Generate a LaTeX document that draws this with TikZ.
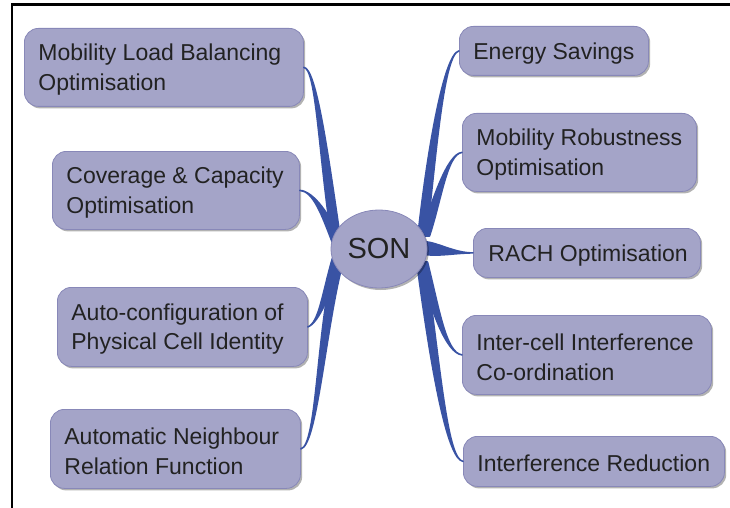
\documentclass[tikz,border=0pt]{standalone}
\usepackage{fontspec}
\setmainfont{Liberation Sans}
\usetikzlibrary{calc,shadows,shapes.geometric}
\definecolor{boxfill}{RGB}{164,164,200}
\definecolor{boxline}{RGB}{136,136,184}
\definecolor{branchblue}{RGB}{57,83,164}
\definecolor{txt}{RGB}{34,34,34}
\tikzset{
  topic/.style={draw=boxline, line width=0.8pt, fill=boxfill, rounded corners=14pt,
    anchor=north west, inner xsep=14pt, inner ysep=0pt, text=txt,
    font=\fontsize{23}{29.5}\selectfont,
    drop shadow={shadow xshift=1.8pt, shadow yshift=-2pt, fill=black, opacity=0.3}},
  centre/.style={ellipse, draw=boxline, line width=0.8pt, fill=boxfill, text=txt,
    minimum width=96pt, minimum height=78pt, inner sep=0pt,
    font=\fontsize{29}{34}\selectfont,
    drop shadow={shadow xshift=1.8pt, shadow yshift=-2pt, fill=black, opacity=0.3}},
  branch/.style={fill=branchblue, draw=branchblue, line width=1.6pt, line join=round}
}
\newcommand\oneline[1]{\mbox{#1}}
\newcommand\boxtext[2]{\raisebox{-2.2pt}[\height][\depth]{\parbox{#1}{\raggedright #2}}}
\newcommand\taper[5]{%
  \filldraw[branch] (#1) .. controls (#2) and ($(#3)+(#5)$) .. ($(#4)+(#5)$)
    -- ($(#4)-(#5)$) .. controls ($(#3)-(#5)$) and (#2) .. (#1) -- cycle;}
\begin{document}
\begin{tikzpicture}[x=1pt,y=-1pt]
\useasboundingbox (0,0) rectangle (730,508);
\draw[line width=2.2pt] (12,508) -- (12,4.5) -- (730,4.5);

% topic boxes
\node[topic, minimum width=279pt, minimum height=78pt] (mlb) at (24,28)
  {\boxtext{251pt}{\oneline{Mobility Load Balancing}\\\oneline{Optimisation}}};
\node[topic, minimum width=247pt, minimum height=78pt] (cco) at (52,151)
  {\boxtext{219pt}{\oneline{Coverage \& Capacity}\\\oneline{Optimisation}}};
\node[topic, minimum width=250pt, minimum height=79pt] (pci) at (57,287)
  {\boxtext{222pt}{\oneline{Auto-configuration of}\\\oneline{Physical Cell Identity}}};
\node[topic, minimum width=250pt, minimum height=79pt] (anr) at (50,409)
  {\boxtext{222pt}{\oneline{Automatic Neighbour}\\\oneline{Relation Function}}};
\node[topic, minimum width=189pt, minimum height=49pt] (es) at (459,26)
  {\boxtext{161pt}{\oneline{Energy Savings}}};
\node[topic, minimum width=234pt, minimum height=78pt] (mro) at (462,113)
  {\boxtext{206pt}{\oneline{Mobility Robustness}\\\oneline{Optimisation}}};
\node[topic, minimum width=227pt, minimum height=49pt, inner xsep=15pt] (rach) at (473,228)
  {\boxtext{197pt}{\oneline{RACH Optimisation}}};
\node[topic, minimum width=249pt, minimum height=79pt] (icic) at (462,315)
  {\boxtext{221pt}{\oneline{Inter-cell Interference}\\\oneline{Co-ordination}}};
\node[topic, minimum width=261pt, minimum height=50pt] (ir) at (463,436)
  {\boxtext{233pt}{\oneline{Interference Reduction}}};

\coordinate (sc) at (379,249);

% branches
\taper{mlb.east}{316,68}{323,150}{$(sc)+(-44,-17)$}{4.5,0}
\taper{cco.east}{313,191}{326,214}{$(sc)+(-42,-6)$}{4.5,0}
\taper{pci.east}{319,323}{327,292}{$(sc)+(-42,9)$}{4.5,0}
\taper{anr.east}{317,446}{321,330}{$(sc)+(-41,15)$}{4.5,0}
\taper{es.west}{444,54}{432,150}{$(sc)+(44,-19)$}{4.5,0}
\taper{mro.west}{447,154}{437,200}{$(sc)+(46,-13)$}{4.5,0}
\taper{rach.west}{455,253}{440,250}{$(sc)+(46,-1)$}{0,6.5}
\taper{icic.west}{446,353}{435,310}{$(sc)+(44,13)$}{4.5,0}
\taper{ir.west}{448,459}{437,380}{$(sc)+(43,19)$}{4.5,0}

\node[centre] (son) at (sc) {SON};
\end{tikzpicture}
\end{document}
